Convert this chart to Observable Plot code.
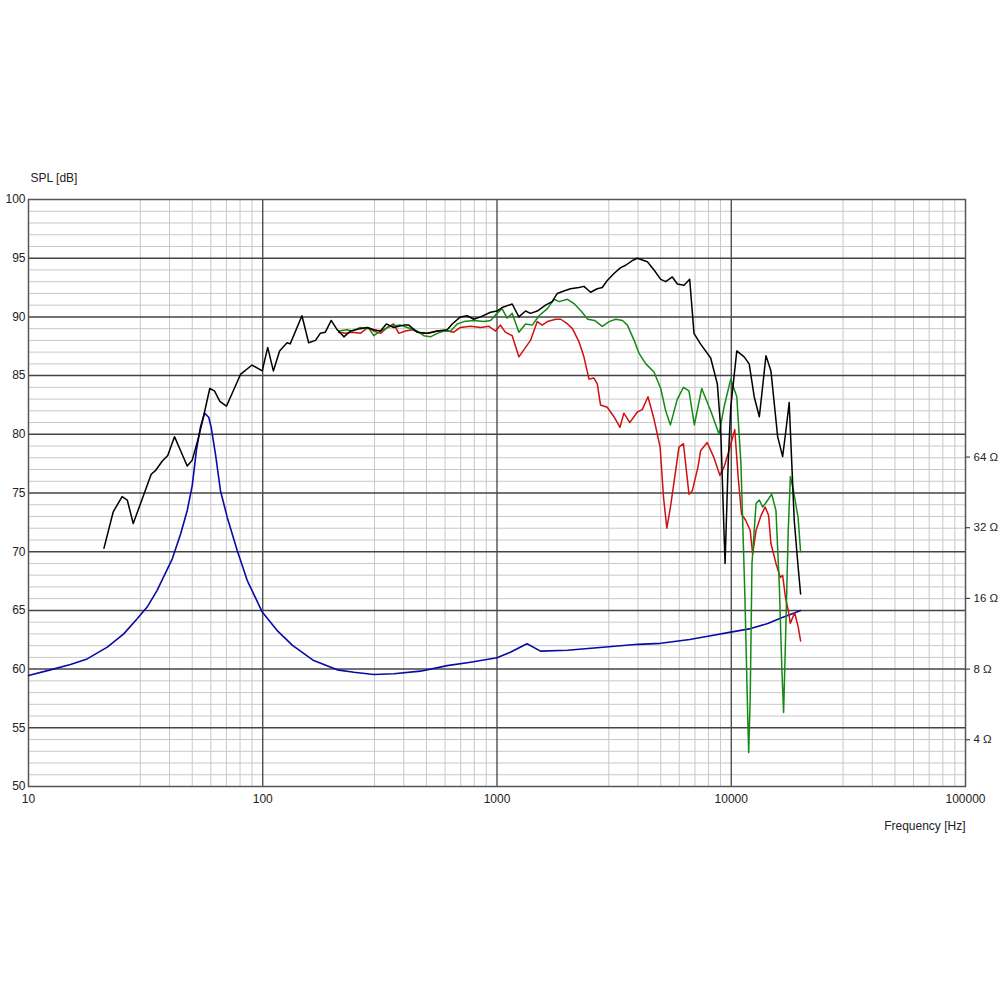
<!DOCTYPE html>
<html>
<head>
<meta charset="utf-8">
<script src="https://cdn.jsdelivr.net/npm/d3@7"></script>
<script src="https://cdn.jsdelivr.net/npm/@observablehq/plot@0.6"></script>
<style>
  html, body { margin: 0; padding: 0; background: #fff; }
</style>
</head>
<body>
<div id="chart"></div>
<script>
// Tick labels / gridline values
const xTicks = [10, 100, 1000, 10000, 100000];
const yTicks = [50, 55, 60, 65, 70, 75, 80, 85, 90, 95, 100];
const zTicks = [4, 8, 16, 32, 64]; // impedance, ohms

// On-axis SPL (black)
const blackF = [21,23,25.1,26.4,28,31.1,33.4,34.8,37.2,39.3,42,44.6,47.6,50,53.3,56,59.4,62.2,65.6,70,75.2,80.3,90,99.5,105,111,118,127,131,147,157,168,176,185,196,208,222,237,261,279,298,318,337,362,400,420,456,503,556,613,644,698,746,796,851,939,1000,1051,1161,1240,1324,1390,1485,1611,1720,1808,1929,2060,2237,2350,2509,2679,2814,2956,3157,3372,3541,3782,3973,4385,4681,5000,5250,5603,5886,6288,6646,6934,7390,8170,8720,9010,9310,9410,9700,9950,10560,11350,11930,12530,13180,14070,14770,15780,16570,17110,17670,18570,19240,19770];
const blackDb = [70.3,73.4,74.7,74.4,72.4,74.9,76.6,76.9,77.7,78.2,79.8,78.6,77.3,77.8,79.8,81.6,83.9,83.7,82.8,82.4,83.8,85.1,85.9,85.4,87.4,85.4,87.1,87.8,87.7,90.1,87.8,88.0,88.6,88.7,89.7,88.9,88.3,88.8,89.0,89.1,88.9,88.8,89.4,89.1,89.3,89.3,88.7,88.6,88.8,88.9,89.4,90.0,90.1,89.8,90.0,90.4,90.5,90.8,91.1,90.0,90.5,90.3,90.5,91.0,91.3,92.0,92.2,92.4,92.5,92.6,92.1,92.4,92.5,93.1,93.7,94.2,94.4,94.8,95.0,94.7,94.0,93.2,93.0,93.4,92.8,92.7,93.2,88.6,87.7,86.5,84.3,80.6,71.8,69.0,77.5,82.3,87.1,86.6,86.0,83.2,81.5,86.7,85.4,79.8,78.1,80.3,82.7,72.7,69.0,66.4];

// Off-axis SPL (green)
const greenF = [211,229,241,261,284,298,318,351,387,414,456,487,520,556,593,634,676,722,796,879,939,1000,1051,1104,1161,1240,1324,1415,1511,1641,1752,1842,2000,2140,2286,2440,2610,2814,3008,3212,3433,3603,3850,4040,4320,4680,5000,5250,5500,5886,6250,6600,6960,7480,8170,8870,9310,9950,10560,11000,11440,11750,11870,12050,12260,12760,13180,13630,14320,14880,15520,16050,16450,16730,17090,17510,17880,18440,19290,19770];
const greenDb = [88.8,88.9,88.8,89.1,89.0,88.4,88.8,89.2,89.3,89.1,88.8,88.4,88.3,88.6,88.8,88.8,89.4,89.6,89.7,89.6,89.7,90.3,90.7,89.9,90.3,88.7,89.4,89.3,90.1,90.7,91.5,91.3,91.5,91.1,90.5,89.8,89.7,89.2,89.6,89.8,89.7,89.3,88.0,86.9,86.0,85.3,83.9,82.0,80.8,83.0,84.0,83.7,80.8,83.9,82.0,80.0,82.3,84.7,83.2,77.5,66.1,56.2,52.9,57.6,69.0,74.1,74.4,73.8,74.4,74.9,73.5,67.0,59.9,56.3,63.3,71.8,76.4,75.2,72.9,70.0];

// Off-axis SPL (red)
const redF = [211,226,241,261,281,298,318,340,362,381,407,435,474,511,556,613,654,698,770,851,923,985,1034,1085,1161,1240,1324,1390,1485,1560,1641,1782,1872,2000,2100,2237,2350,2470,2590,2680,2766,2955,3157,3350,3480,3690,3970,4170,4410,4680,4970,5140,5310,5500,5790,5980,6250,6600,6820,7210,7400,7890,8400,8950,9310,9780,10350,10700,11060,11510,12050,12340,12760,13410,13960,14430,14770,15520,16200,16570,17040,17510,17880,18290,18650,19310,19770];
const redDb = [88.7,88.6,88.7,88.6,89.1,88.8,88.6,89.1,89.4,88.6,88.8,88.9,88.6,88.6,88.8,88.8,88.7,89.1,89.2,89.1,89.2,88.8,89.3,88.7,88.4,86.6,87.4,88.0,89.6,89.3,89.6,89.8,89.8,89.4,89.0,87.9,86.6,84.7,84.8,84.3,82.5,82.3,81.5,80.6,81.8,81.0,81.9,82.1,83.2,81.3,78.9,74.6,72.0,73.8,76.9,78.9,79.2,74.9,75.2,77.2,78.6,79.3,78.1,76.5,77.2,78.6,80.4,76.4,73.2,72.7,71.8,69.8,71.8,73.1,73.8,73.1,70.7,69.0,67.8,68.0,66.1,65.0,63.9,64.4,64.8,63.6,62.4];

// Impedance (blue), ohms
const impF = [10,12.4,15.1,17.8,21.7,25.5,29.1,32.1,35.4,41.1,44.6,47.6,50,52.1,54.2,56.4,58.8,60.2,62.8,66,70.5,77.8,85.8,99.5,115,134,165,208,245,298,363,471,613,771,1000,1140,1343,1534,2000,3000,4000,5000,6650,8170,9950,12100,14320,16300,18000,19770];
const impOhm = [7.51,7.94,8.37,8.84,9.92,11.3,13.1,14.7,17.3,23.6,30.1,37.9,48.4,68.3,85.8,98.4,94.6,85.8,66.1,46.0,35.5,25.6,19.1,14.0,11.7,10.1,8.70,7.94,7.76,7.59,7.64,7.84,8.28,8.56,8.94,9.44,10.25,9.54,9.62,9.96,10.2,10.3,10.7,11.1,11.5,11.9,12.5,13.2,13.7,14.2];

// right axis mapping: 8 ohm at 60 dB, 20*log10 per decade
const ohmToDb = z => 60 + 20 * Math.log10(z / 8);
const dbToOhm = d => 8 * Math.pow(10, (d - 60) / 20);

const rows = (fs, vs) => fs.map((f, i) => ({f, v: vs[i]}));
const black = rows(blackF, blackDb);
const green = rows(greenF, greenDb);
const red = rows(redF, redDb);
const imp = impF.map((f, i) => ({f, v: ohmToDb(impOhm[i])}));

const minorX = [];
for (let d = 10; d < 100000; d *= 10) for (let m = 3; m <= 9; m++) minorX.push(d * m);
const minorY = d3.range(51, 100).filter(v => v % 5 !== 0);
const majorY = d3.range(55, 100, 5);

const chart = Plot.plot({
  width: 1000,
  height: 1000,
  marginLeft: 28,
  marginRight: 35,
  marginTop: 199,
  marginBottom: 214,
  x: {type: "log", domain: [10, 100000]},
  y: {domain: [50, 100]},
  style: {fontFamily: "'Liberation Sans', Arial, sans-serif", fontSize: "12px", background: "#fff", color: "#222", overflow: "visible"},
  marks: [
    Plot.ruleX(minorX, {stroke: "#c8c8c8", strokeWidth: 1}),
    Plot.ruleY(minorY, {stroke: "#c8c8c8", strokeWidth: 1}),
    Plot.ruleX([100, 1000, 10000], {stroke: "#333", strokeWidth: 1.2}),
    Plot.ruleY(majorY, {stroke: "#444", strokeWidth: 1.5}),
    Plot.frame({stroke: "#555", strokeWidth: 1.5}),
    Plot.line(imp, {x: "f", y: "v", stroke: "#0a0aa6", strokeWidth: 1.6}),
    Plot.line(red, {x: "f", y: "v", stroke: "#d01010", strokeWidth: 1.5}),
    Plot.line(green, {x: "f", y: "v", stroke: "#148a14", strokeWidth: 1.5}),
    Plot.line(black, {x: "f", y: "v", stroke: "#000", strokeWidth: 1.5}),
    Plot.axisX({ticks: xTicks, tickSize: 0, tickPadding: 8, tickFormat: d => String(d), label: null}),
    Plot.axisY({ticks: yTicks, tickSize: 0, tickPadding: 3, tickFormat: d => String(d), label: null}),
    Plot.axisY({anchor: "right", ticks: zTicks.map(ohmToDb), tickSize: 4, tickPadding: 4, fontSize: 11.5,
                tickFormat: d => Math.round(dbToOhm(d)) + " Ω", label: null}),
    Plot.text(["SPL [dB]"], {frameAnchor: "top-left", textAnchor: "start", lineAnchor: "middle", dx: 2, dy: -21, fill: "#222"}),
    Plot.text(["Frequency [Hz]"], {frameAnchor: "bottom-right", textAnchor: "end", lineAnchor: "middle", dx: 0, dy: 40, fill: "#222"})
  ]
});
document.getElementById("chart").appendChild(chart);
</script>
</body>
</html>
